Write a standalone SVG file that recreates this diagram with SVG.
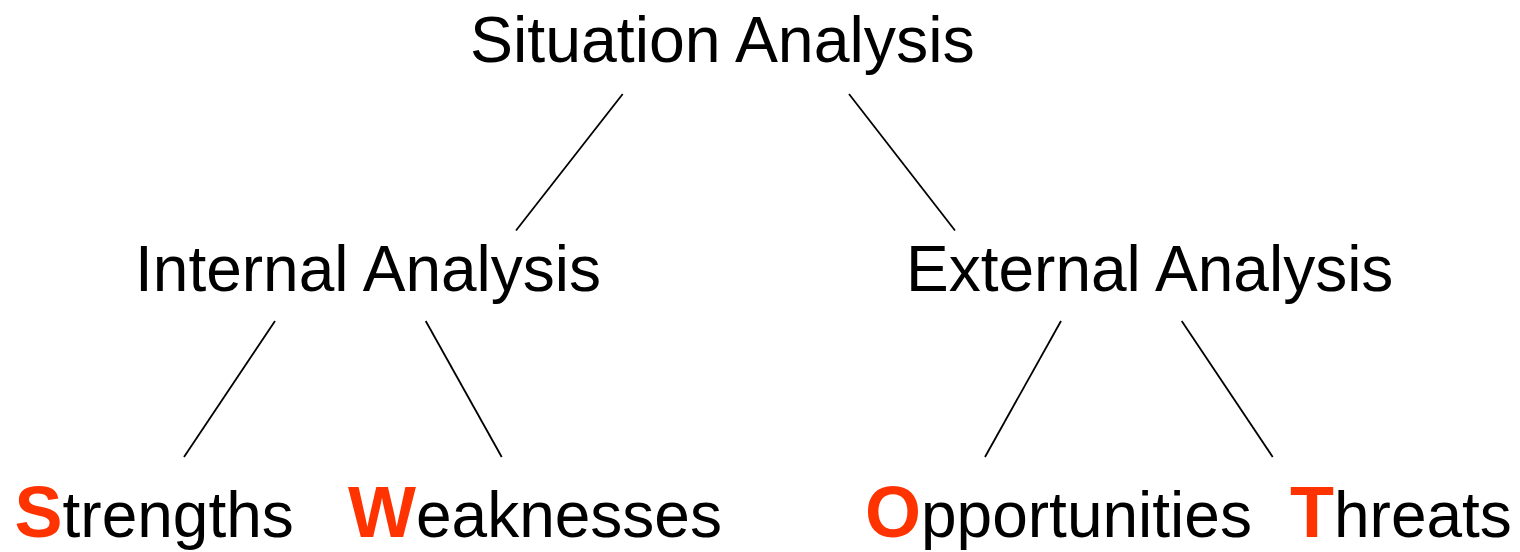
<svg xmlns="http://www.w3.org/2000/svg" width="1520" height="552" viewBox="0 0 1520 552">
<style>
text{font-family:"Liberation Sans",Arial,sans-serif;font-size:64px;fill:#000}
.k{font-weight:bold;font-size:72px;fill:#FF3300}
line{stroke:#000;stroke-width:1.8;stroke-linecap:butt}
</style>
<rect width="1520" height="552" fill="#fff"/>
<g id="connectors">
<line x1="622.7" y1="94" x2="516" y2="230.5"/>
<line x1="849" y1="94" x2="955" y2="230.5"/>
<line x1="275" y1="321" x2="184" y2="457"/>
<line x1="425.7" y1="321" x2="501.7" y2="457"/>
<line x1="1061" y1="321" x2="985" y2="457"/>
<line x1="1181.7" y1="321" x2="1272.7" y2="457"/>
</g>
<g id="situation"><text x="470" y="62" style="font-size:64.4px">Situation Analysis</text></g>
<g id="internal"><text x="135" y="291">Internal Analysis</text></g>
<g id="external"><text x="906" y="291">External Analysis</text></g>
<g id="strengths"><text x="14.5" y="537"><tspan class="k">S</tspan>trengths</text></g>
<g id="weaknesses"><text x="348" y="537"><tspan class="k">W</tspan>eaknesses</text></g>
<g id="opportunities"><text x="865" y="537"><tspan class="k">O</tspan>pportunities</text></g>
<g id="threats"><text x="1290" y="537"><tspan class="k">T</tspan>hreats</text></g>
</svg>
